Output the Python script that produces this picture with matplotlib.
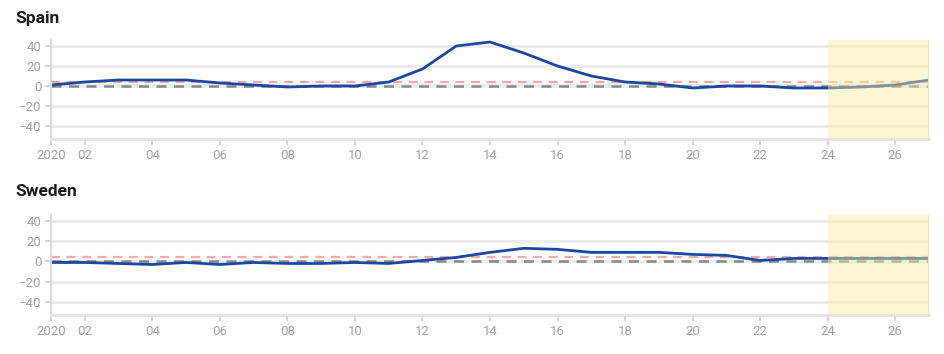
import numpy as np
import matplotlib.pyplot as plt

plt.rcParams['font.family'] = ['Roboto', 'DejaVu Sans']

weeks = list(range(1, 28))
spain = [1, 4, 6, 6, 6, 3, 1, -1, 0, 0, 4, 17, 40, 44, 33, 20, 10, 4, 2, -2,
         0, 0, -2, -2, -1, 1, 6]
sweden = [-1, -1, -2, -3, -1, -3, -1, -2, -2, -1, -2, 1, 4, 9, 13, 12, 9, 9, 9, 7,
          6, 1, 3, 3, 3, 3, 3]
countries = ['Spain', 'Sweden']
series = [spain, sweden]
threshold = 4
tick_weeks = [1, 2, 4, 6, 8, 10, 12, 14, 16, 18, 20, 22, 24, 26]
tick_labels = ['2020', '02', '04', '06', '08', '10', '12', '14', '16', '18', '20', '22', '24', '26']
shade_start, shade_end = 24, 27

W, H = 945, 354
fig = plt.figure(figsize=(W / 100, H / 100), dpi=100)

panels = [(40, 139, 18), (215, 315, 192)]  # top px, bottom px, title px

for (top, bot, ty), name, vals in zip(panels, countries, series):
    ax = fig.add_axes([51 / W, 1 - bot / H, (929 - 51) / W, (bot - top) / H])
    ax.set_xlim(1, 27)
    ax.set_ylim(-53, 46)
    for y in [-40, -20, 20, 40]:
        ax.axhline(y, color='#ebebeb', lw=2, zorder=0)
    ax.axhspan(-1.8, 1.8, color='#e9eef3', zorder=0.5, lw=0)
    ax.axhline(threshold, color='#f7aaa6', lw=1.6, dashes=(4, 3), zorder=1)
    ax.axhline(0, color='#888888', lw=1.8, dashes=(4, 3), zorder=1)
    ax.plot(weeks, vals, color='#1c47a0', lw=2, zorder=2)
    ax.axvspan(shade_start, shade_end, color='#faed9d', alpha=0.45, lw=0, zorder=3)
    ax.axvline(shade_end, color='#ece3b8', lw=1.5, zorder=3)

    for s in ['top', 'right']:
        ax.spines[s].set_visible(False)
    ax.spines['left'].set_color('#dddddd')
    ax.spines['left'].set_linewidth(1.5)
    ax.spines['bottom'].set_color('#e3e3e3')
    ax.spines['bottom'].set_linewidth(2)

    ax.set_yticks([-40, -20, 0, 20, 40])
    ax.set_xticks(tick_weeks, tick_labels)
    ax.tick_params(axis='both', colors='#cccccc', labelcolor='#a8a3a3', labelsize=9.5,
                   length=4, width=1.2, pad=3)
    ax.set_facecolor('none')

    fig.text(15 / W, 1 - ty / H, name, fontsize=12.5, fontweight='bold', color='#1a1a1a',
             va='center', ha='left')

fig.savefig('out.png', dpi=100)
